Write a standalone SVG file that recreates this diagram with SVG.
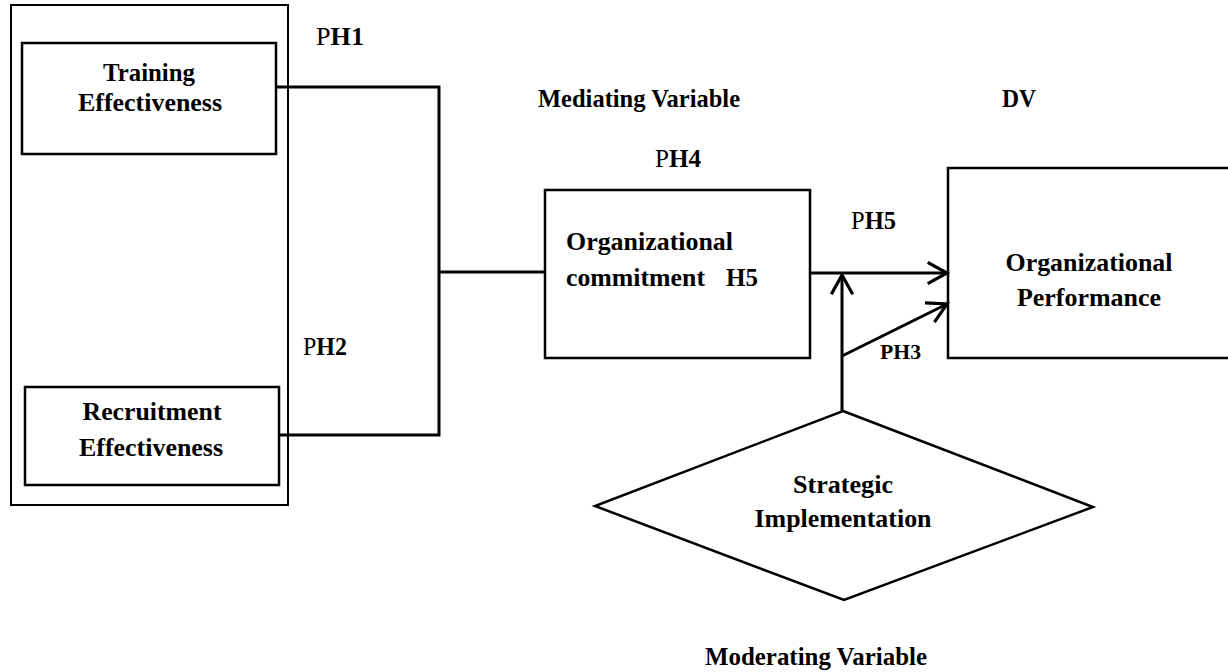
<svg xmlns="http://www.w3.org/2000/svg" width="1228" height="672" viewBox="0 0 1228 672">
  <style>
    .box { fill: none; stroke: #000; stroke-width: 2.5; }
    .outer { fill: none; stroke: #000; stroke-width: 2; }
    .line { fill: none; stroke: #000; stroke-width: 3; }
    .t { font-family: 'Liberation Serif', serif; font-size: 25px; font-weight: 700; fill: #000; }
    .c { text-anchor: middle; }
    .r { font-weight: 400; }
    .s { font-size: 21px; }
  </style>
  <defs>
    <marker id="arr" markerUnits="userSpaceOnUse" markerWidth="30" markerHeight="30" viewBox="-22 -14 26 28" refX="0" refY="0" orient="auto">
      <path d="M -18 -10 L 0 0 L -18 10" fill="none" stroke="#000" stroke-width="3"/>
    </marker>
  </defs>
  <rect width="1228" height="672" fill="#fff"/>

  <g id="iv-group">
    <rect class="outer" x="11" y="5" width="277" height="500"/>
  </g>

  <g id="training">
    <rect class="box" x="22" y="43" width="254" height="111"/>
    <text class="t c" x="149" y="81" textLength="92" lengthAdjust="spacingAndGlyphs">Training</text>
    <text class="t c" x="150" y="111" textLength="144" lengthAdjust="spacingAndGlyphs">Effectiveness</text>
  </g>

  <g id="recruitment">
    <rect class="box" x="25" y="387" width="254" height="98"/>
    <text class="t c" x="152" y="420" textLength="139" lengthAdjust="spacingAndGlyphs">Recruitment</text>
    <text class="t c" x="151" y="456" textLength="144" lengthAdjust="spacingAndGlyphs">Effectiveness</text>
  </g>

  <g id="commitment">
    <rect class="box" x="545" y="190" width="265" height="168"/>
    <text class="t" x="566" y="250" textLength="167" lengthAdjust="spacingAndGlyphs">Organizational</text>
    <text class="t" x="566" y="286" textLength="139" lengthAdjust="spacingAndGlyphs">commitment</text>
    <text class="t" x="726" y="286" textLength="32" lengthAdjust="spacingAndGlyphs">H5</text>
  </g>

  <g id="performance">
    <path class="box" d="M 1240 168 L 948 168 L 948 358 L 1240 358"/>
    <text class="t c" x="1089" y="271" textLength="167" lengthAdjust="spacingAndGlyphs">Organizational</text>
    <text class="t c" x="1089" y="306" textLength="144" lengthAdjust="spacingAndGlyphs">Performance</text>
  </g>

  <g id="strategic">
    <polygon class="box" points="843,411 1093,507 844,600 595,506"/>
    <text class="t c" x="843" y="493" textLength="100" lengthAdjust="spacingAndGlyphs">Strategic</text>
    <text class="t c" x="843" y="527" textLength="177" lengthAdjust="spacingAndGlyphs">Implementation</text>
  </g>

  <g id="connectors">
    <polyline class="line" points="276,87 439,87 439,435 279,435"/>
    <line class="line" x1="439" y1="272" x2="545" y2="272"/>
    <line class="line" x1="810" y1="273" x2="947" y2="273" marker-end="url(#arr)"/>
    <line class="line" x1="842" y1="411" x2="842" y2="275" marker-end="url(#arr)"/>
    <line class="line" x1="842" y1="356" x2="947" y2="304" marker-end="url(#arr)"/>
  </g>

  <g id="labels">
    <text class="t" x="316" y="45" textLength="48" lengthAdjust="spacingAndGlyphs"><tspan class="r">P</tspan>H1</text>
    <text class="t" x="303" y="355" textLength="44" lengthAdjust="spacingAndGlyphs"><tspan class="r">P</tspan>H2</text>
    <text class="t" x="655" y="167" textLength="46" lengthAdjust="spacingAndGlyphs"><tspan class="r">P</tspan>H4</text>
    <text class="t" x="851" y="229" textLength="45" lengthAdjust="spacingAndGlyphs"><tspan class="r">P</tspan>H5</text>
    <text class="t s" x="880" y="359" textLength="41" lengthAdjust="spacingAndGlyphs">PH3</text>
    <text class="t" x="538" y="107" textLength="202" lengthAdjust="spacingAndGlyphs">Mediating Variable</text>
    <text class="t" x="1002" y="107" textLength="34" lengthAdjust="spacingAndGlyphs">DV</text>
    <text class="t c" x="816" y="665" textLength="222" lengthAdjust="spacingAndGlyphs">Moderating Variable</text>
  </g>
</svg>
